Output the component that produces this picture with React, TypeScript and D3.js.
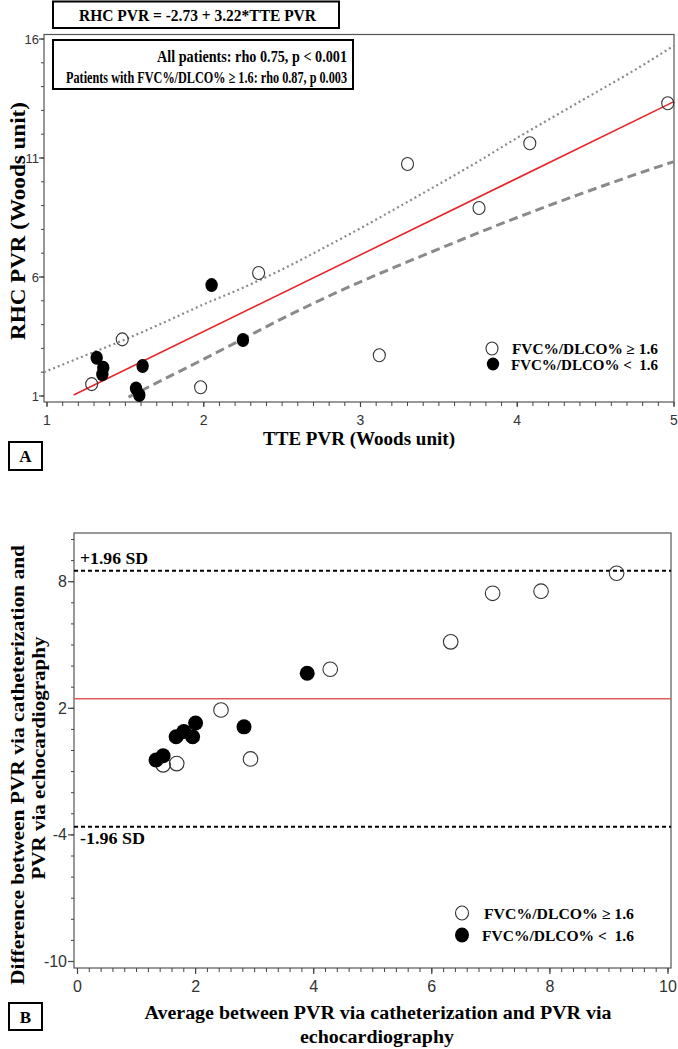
import React from 'react';
import * as d3 from 'd3';

// ---------- Panel A data (TTE PVR vs RHC PVR) ----------
const OPEN_A_TTE = [1.285, 1.48, 1.98, 2.35, 3.12, 3.30, 3.756, 4.08, 4.96];
const OPEN_A_RHC = [1.50, 3.38, 1.37, 6.17, 2.71, 10.75, 8.90, 11.62, 13.30];
const FILLED_A_TTE = [1.317, 1.359, 1.353, 1.61, 1.568, 1.589, 2.05, 2.25];
const FILLED_A_RHC = [2.61, 2.19, 1.91, 2.26, 1.32, 1.04, 5.66, 3.35];
const FIT_X = [1.17, 5.0];
const FIT_Y = [1.04, 13.37];
const UPPER_X = [0.98, 1.25, 1.5, 1.75, 2.0, 2.25, 2.5, 2.75, 3.0, 3.25, 3.5, 3.75, 4.0, 4.25, 4.5, 4.75, 5.0];
const UPPER_Y = [2.0, 2.72, 3.38, 4.1, 4.85, 5.55, 6.32, 7.17, 8.05, 8.97, 9.9, 10.85, 11.85, 12.8, 13.75, 14.7, 15.72];
const LOWER_X = [1.52, 1.75, 2.0, 2.25, 2.5, 2.75, 3.0, 3.25, 3.5, 3.75, 4.0, 4.25, 4.5, 4.75, 5.0];
const LOWER_Y = [0.95, 1.72, 2.55, 3.4, 4.25, 5.05, 5.8, 6.5, 7.18, 7.85, 8.5, 9.12, 9.72, 10.3, 10.85];
const A_X_TICKS = [1, 2, 3, 4, 5];
const A_Y_TICKS = [1, 6, 11, 16];

// ---------- Panel B data (Bland-Altman) ----------
const OPEN_B_AVG = [1.45, 1.68, 2.43, 2.93, 4.28, 6.32, 7.03, 7.85, 9.13];
const OPEN_B_DIFF = [-0.68, -0.62, 1.92, -0.40, 3.85, 5.15, 7.45, 7.55, 8.40];
const FILLED_B_AVG = [1.33, 1.45, 1.67, 1.80, 1.95, 2.00, 2.82, 3.89];
const FILLED_B_DIFF = [-0.45, -0.25, 0.65, 0.90, 0.65, 1.30, 1.12, 3.66];
const B_MEAN = 2.45;
const B_LIMITS = [8.52, -3.61];
const B_X_TICKS = [0, 2, 4, 6, 8, 10];
const B_Y_TICKS = [8, 2, -4, -10];

const SERIF = '"Liberation Serif", "Times New Roman", serif';
const SANS = '"Liberation Sans Narrow", "Liberation Sans", Arial, sans-serif';

function range(a: number, b: number, step: number) {
  const out: number[] = [];
  const n = Math.round((b - a) / step);
  for (let i = 0; i <= n; i++) out.push(+(a + i * step).toFixed(4));
  return out;
}

export default function App() {
  // Panel A scales
  const xA = d3.scaleLinear().domain([1, 5]).range([47, 674]);
  const yA = d3.scaleLinear().domain([1, 16]).range([396, 39]);
  const A_LEFT = 44, A_RIGHT = 674, A_TOP = 34.5, A_BOTTOM = 402;

  // Panel B scales
  const xB = d3.scaleLinear().domain([0, 10]).range([77.5, 668]);
  const yB = d3.scaleLinear().domain([-10, 8]).range([961.5, 581.7]);
  const B_LEFT = 74, B_RIGHT = 671, B_TOP = 533, B_BOTTOM = 968;

  const lineA = d3.line<[number, number]>().x(d => xA(d[0])).y(d => yA(d[1])).curve(d3.curveMonotoneX);
  const fitPath = lineA(FIT_X.map((x, i) => [x, FIT_Y[i]] as [number, number]))!;
  const upperPath = lineA(UPPER_X.map((x, i) => [x, UPPER_Y[i]] as [number, number]))!;
  const lowerPath = lineA(LOWER_X.map((x, i) => [x, LOWER_Y[i]] as [number, number]))!;

  const axisColor = '#555';
  const tickColor = '#444';

  return (
    <svg width={678} height={1049} style={{ position: 'absolute', left: 0, top: 0, background: '#fff' }}>
      <rect x={0} y={0} width={678} height={1049} fill="#fff" />

      {/* ===== Panel A ===== */}
      <rect x={A_LEFT} y={A_TOP} width={A_RIGHT - A_LEFT} height={A_BOTTOM - A_TOP} fill="none" stroke={axisColor} strokeWidth={1.2} />
      {range(1, 5, 0.1).map(v => (
        <line key={'axm' + v} x1={xA(v)} x2={xA(v)} y1={A_BOTTOM} y2={A_BOTTOM + 4} stroke={tickColor} strokeWidth={1} />
      ))}
      {A_X_TICKS.map(v => (
        <g key={'axt' + v}>
          <line x1={xA(v)} x2={xA(v)} y1={A_BOTTOM} y2={A_BOTTOM + 5} stroke={tickColor} strokeWidth={1.2} />
          <text x={xA(v)} y={425} textAnchor="middle" fontFamily={SANS} fontSize={14} fill="#333">{v}</text>
        </g>
      ))}
      {range(1, 16, 1).map(v => (
        <line key={'aym' + v} x1={A_LEFT} x2={A_LEFT - 3} y1={yA(v)} y2={yA(v)} stroke={tickColor} strokeWidth={1} />
      ))}
      {A_Y_TICKS.map(v => (
        <g key={'ayt' + v}>
          <line x1={A_LEFT} x2={A_LEFT - 5} y1={yA(v)} y2={yA(v)} stroke={tickColor} strokeWidth={1.2} />
          <text x={39} y={yA(v) + 4.5} textAnchor="end" fontFamily={SANS} fontSize={13} fill="#333">{v}</text>
        </g>
      ))}

      {/* confidence bands and fit */}
      <path d={upperPath} fill="none" stroke="#8a8a8a" strokeWidth={2.2} strokeDasharray="2,3" />
      <path d={lowerPath} fill="none" stroke="#8a8a8a" strokeWidth={3} strokeDasharray="9,5" />
      <path d={fitPath} fill="none" stroke="#e8262a" strokeWidth={1.6} />

      {/* markers */}
      {OPEN_A_TTE.map((x, i) => (
        <ellipse key={'ao' + i} cx={xA(x)} cy={yA(OPEN_A_RHC[i])} rx={6} ry={6.5} fill="none" stroke="#333" strokeWidth={1.1} />
      ))}
      {FILLED_A_TTE.map((x, i) => (
        <ellipse key={'af' + i} cx={xA(x)} cy={yA(FILLED_A_RHC[i])} rx={6.2} ry={7} fill="#000" />
      ))}

      {/* legend A */}
      <ellipse cx={492} cy={348.5} rx={6} ry={6.5} fill="none" stroke="#333" strokeWidth={1.1} />
      <text x={512} y={353.5} fontFamily={SERIF} fontWeight="bold" fontSize={14.5} textLength={146} lengthAdjust="spacingAndGlyphs">FVC%/DLCO% ≥ 1.6</text>
      <ellipse cx={493} cy={364} rx={6.2} ry={6.5} fill="#000" />
      <text x={511} y={369.5} fontFamily={SERIF} fontWeight="bold" fontSize={14.5} textLength={147} lengthAdjust="spacingAndGlyphs" style={{ whiteSpace: 'pre' }}>FVC%/DLCO% &lt;  1.6</text>

      {/* equation box */}
      <rect x={53} y={1.5} width={286} height={26.5} fill="#fff" stroke="#000" strokeWidth={2} />
      <text x={79} y={21} fontFamily={SERIF} fontWeight="bold" fontSize={17} textLength={237} lengthAdjust="spacingAndGlyphs">RHC PVR = -2.73 + 3.22*TTE PVR</text>

      {/* correlation box */}
      <rect x={53} y={40} width={300} height={49} fill="#fff" stroke="#000" strokeWidth={2} />
      <text x={347} y={62} textAnchor="end" fontFamily={SERIF} fontWeight="bold" fontSize={16.5} textLength={190} lengthAdjust="spacingAndGlyphs">All patients: rho 0.75, p &lt; 0.001</text>
      <text x={347} y={82.5} textAnchor="end" fontFamily={SERIF} fontWeight="bold" fontSize={16.5} textLength={281} lengthAdjust="spacingAndGlyphs">Patients with FVC%/DLCO% ≥ 1.6: rho 0.87, p 0.003</text>

      {/* axis titles A */}
      <text x={359} y={445} textAnchor="middle" fontFamily={SERIF} fontWeight="bold" fontSize={19} textLength={192} lengthAdjust="spacingAndGlyphs">TTE PVR (Woods unit)</text>
      <text transform="translate(25,221) rotate(-90)" textAnchor="middle" fontFamily={SERIF} fontWeight="bold" fontSize={21} textLength={238} lengthAdjust="spacingAndGlyphs">RHC PVR (Woods unit)</text>

      {/* panel label A */}
      <rect x={9} y={442} width={33} height={28} fill="#fff" stroke="#000" strokeWidth={2} />
      <text x={25.5} y={462} textAnchor="middle" fontFamily={SERIF} fontWeight="bold" fontSize={17}>A</text>

      {/* ===== Panel B ===== */}
      <rect x={B_LEFT} y={B_TOP} width={B_RIGHT - B_LEFT} height={B_BOTTOM - B_TOP} fill="none" stroke={axisColor} strokeWidth={1.2} />
      {range(0, 10, 0.2).map(v => (
        <line key={'bxm' + v} x1={xB(v)} x2={xB(v)} y1={B_BOTTOM} y2={B_BOTTOM + 4} stroke={tickColor} strokeWidth={1} />
      ))}
      {B_X_TICKS.map(v => (
        <g key={'bxt' + v}>
          <line x1={xB(v)} x2={xB(v)} y1={B_BOTTOM} y2={B_BOTTOM + 6} stroke={tickColor} strokeWidth={1.2} />
          <text x={xB(v)} y={992} textAnchor="middle" fontFamily={SANS} fontSize={16} fill="#333">{v}</text>
        </g>
      ))}
      {range(-10, 10, 1).map(v => (
        <line key={'bym' + v} x1={B_LEFT} x2={B_LEFT - 3} y1={yB(v)} y2={yB(v)} stroke={tickColor} strokeWidth={1} />
      ))}
      {B_Y_TICKS.map(v => (
        <g key={'byt' + v}>
          <line x1={B_LEFT} x2={B_LEFT - 6} y1={yB(v)} y2={yB(v)} stroke={tickColor} strokeWidth={1.2} />
          <text x={67} y={yB(v) + 5.5} textAnchor="end" fontFamily={SANS} fontSize={16} fill="#333">{v}</text>
        </g>
      ))}

      {/* reference lines */}
      <line x1={B_LEFT} x2={B_RIGHT} y1={yB(B_MEAN)} y2={yB(B_MEAN)} stroke="#e45a5c" strokeWidth={1.6} />
      {B_LIMITS.map((v, i) => (
        <line key={'lim' + i} x1={B_LEFT} x2={B_RIGHT} y1={yB(v)} y2={yB(v)} stroke="#000" strokeWidth={2} strokeDasharray="4,3" />
      ))}
      <text x={80} y={564} fontFamily={SERIF} fontWeight="bold" fontSize={16} textLength={68} lengthAdjust="spacingAndGlyphs">+1.96 SD</text>
      <text x={80} y={844} fontFamily={SERIF} fontWeight="bold" fontSize={16} textLength={65} lengthAdjust="spacingAndGlyphs">-1.96 SD</text>

      {/* markers B */}
      {OPEN_B_AVG.map((x, i) => (
        <circle key={'bo' + i} cx={xB(x)} cy={yB(OPEN_B_DIFF[i])} r={7.3} fill="none" stroke="#333" strokeWidth={1.1} />
      ))}
      {FILLED_B_AVG.map((x, i) => (
        <circle key={'bf' + i} cx={xB(x)} cy={yB(FILLED_B_DIFF[i])} r={7.5} fill="#000" />
      ))}

      {/* legend B */}
      <ellipse cx={462} cy={913} rx={6.5} ry={7} fill="none" stroke="#333" strokeWidth={1.1} />
      <text x={484} y={918.5} fontFamily={SERIF} fontWeight="bold" fontSize={15} textLength={150} lengthAdjust="spacingAndGlyphs">FVC%/DLCO% ≥ 1.6</text>
      <ellipse cx={462} cy={935} rx={7} ry={7.5} fill="#000" />
      <text x={482} y={941} fontFamily={SERIF} fontWeight="bold" fontSize={15} textLength={152} lengthAdjust="spacingAndGlyphs" style={{ whiteSpace: 'pre' }}>FVC%/DLCO% &lt;  1.6</text>

      {/* axis titles B */}
      <text x={378} y={1019} textAnchor="middle" fontFamily={SERIF} fontWeight="bold" fontSize={18.5} textLength={467} lengthAdjust="spacingAndGlyphs">Average between PVR via catheterization and PVR via</text>
      <text x={377} y={1043} textAnchor="middle" fontFamily={SERIF} fontWeight="bold" fontSize={18.5} textLength={154} lengthAdjust="spacingAndGlyphs">echocardiography</text>
      <text transform="translate(24,765) rotate(-90)" textAnchor="middle" fontFamily={SERIF} fontWeight="bold" fontSize={19.5} textLength={440} lengthAdjust="spacingAndGlyphs">Difference between PVR via catheterization and</text>
      <text transform="translate(45,758) rotate(-90)" textAnchor="middle" fontFamily={SERIF} fontWeight="bold" fontSize={19.5} textLength={243} lengthAdjust="spacingAndGlyphs">PVR via echocardiography</text>

      {/* panel label B */}
      <rect x={9} y={1003} width={33} height={27} fill="#fff" stroke="#000" strokeWidth={2} />
      <text x={25.5} y={1022.5} textAnchor="middle" fontFamily={SERIF} fontWeight="bold" fontSize={17}>B</text>
    </svg>
  );
}
